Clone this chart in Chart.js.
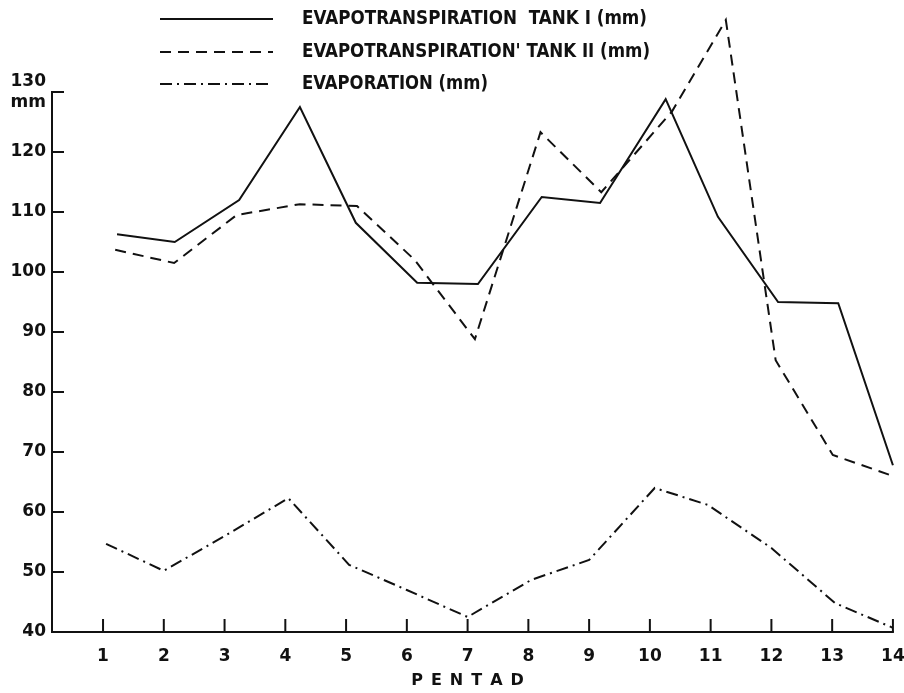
<!DOCTYPE html>
<html>
<head>
<meta charset="utf-8">
<script src="https://cdn.jsdelivr.net/npm/chart.js@4.4.1/dist/chart.umd.min.js"></script>
<style>
  html, body { margin: 0; padding: 0; background: #ffffff; }
  #wrap { width: 904px; height: 693px; }
</style>
</head>
<body>
<div id="wrap"><canvas id="c" width="904" height="693"></canvas></div>
<script>
// ---- data ----
const pentads = [1, 2, 3, 4, 5, 6, 7, 8, 9, 10, 11, 12, 13, 14];
const yTickValues = [40, 50, 60, 70, 80, 90, 100, 110, 120, 130];

const tank1X = [1.23, 2.18, 3.24, 4.24, 5.16, 6.17, 7.17, 8.22, 9.18, 10.26, 11.12, 12.11, 13.10, 14.0];
const tank1Y = [106.3, 105.0, 112.0, 127.5, 108.2, 98.2, 98.0, 112.5, 111.5, 128.8, 109.2, 95.0, 94.8, 67.8];

const tank2X = [1.20, 2.17, 3.20, 4.24, 5.18, 6.13, 7.12, 8.20, 9.20, 10.36, 11.25, 12.07, 13.01, 14.0];
const tank2Y = [103.7, 101.5, 109.5, 111.3, 111.0, 102.0, 88.8, 123.3, 113.3, 126.7, 142.0, 85.3, 69.5, 66.0];

const evapX = [1.05, 2.0, 3.0, 4.05, 5.05, 6.0, 7.0, 8.05, 9.0, 10.08, 10.95, 12.0, 13.05, 14.0];
const evapY = [54.7, 50.2, 56.0, 62.3, 51.2, 47.0, 42.5, 48.7, 52.0, 64.0, 61.2, 54.0, 44.8, 40.7];

const seriesNames = [
  "EVAPOTRANSPIRATION  TANK I (mm)",
  "EVAPOTRANSPIRATION' TANK II (mm)",
  "EVAPORATION (mm)"
];
const xTitle = "P\u2002E\u2002N\u2002T\u2002A\u2002D\u2002\u2002";

// ---- helpers ----
const INK = '#111111';
const zip = (xs, ys) => xs.map((x, i) => ({ x: x, y: ys[i] }));
const dashes = [[], [11, 7], [12, 5, 2, 5]];

const axisPlugin = {
  id: 'axisPlugin',
  afterDraw(chart) {
    const ctx = chart.ctx;
    const xs = chart.scales.x, ys = chart.scales.y;
    const left = chart.chartArea.left;
    const y0 = ys.getPixelForValue(yTickValues[0]);
    const yTop = ys.getPixelForValue(yTickValues[yTickValues.length - 1]);
    ctx.save();
    ctx.strokeStyle = INK;
    ctx.lineWidth = 2;
    ctx.lineCap = 'butt';
    ctx.beginPath();
    ctx.moveTo(left, yTop - 1);
    ctx.lineTo(left, y0 + 1);
    ctx.stroke();
    yTickValues.forEach(v => {
      const py = ys.getPixelForValue(v);
      ctx.beginPath();
      ctx.moveTo(left, py);
      ctx.lineTo(left + 12, py);
      ctx.stroke();
    });
    const xEnd = xs.getPixelForValue(pentads[pentads.length - 1]);
    ctx.beginPath();
    ctx.moveTo(left - 1, y0);
    ctx.lineTo(xEnd + 1, y0);
    ctx.stroke();
    pentads.forEach(p => {
      const px = xs.getPixelForValue(p);
      ctx.beginPath();
      ctx.moveTo(px, y0);
      ctx.lineTo(px, y0 - 13);
      ctx.stroke();
    });

    // legend
    const rowsY = [19, 52, 84];
    const lineX0 = 160, lineX1 = 273, textX = 302;
    const targetW = [345, 348, 186];
    ctx.font = 'bold 19px "DejaVu Sans Condensed", "Liberation Sans Narrow", "DejaVu Sans", sans-serif';
    ctx.fillStyle = INK;
    ctx.textBaseline = 'middle';
    ctx.textAlign = 'left';
    chart.data.datasets.forEach((ds, i) => {
      const ry = rowsY[i];
      ctx.setLineDash(dashes[i]);
      ctx.lineWidth = 2;
      ctx.beginPath();
      ctx.moveTo(lineX0, ry);
      ctx.lineTo(lineX1, ry);
      ctx.stroke();
      ctx.setLineDash([]);
      const w = ctx.measureText(ds.label).width;
      const sx = targetW[i] / w;
      ctx.save();
      ctx.translate(textX, ry);
      ctx.scale(sx, 1);
      ctx.fillText(ds.label, 0, 0);
      ctx.restore();
    });
    ctx.restore();
  }
};

const mkDs = (label, xs, ys, dash) => ({
  label: label,
  data: zip(xs, ys),
  borderColor: INK,
  backgroundColor: INK,
  borderWidth: 2,
  borderDash: dash,
  pointRadius: 0,
  tension: 0,
  fill: false
});

const noPad = s => { s.paddingLeft = 0; s.paddingRight = 0; s.paddingTop = 0; s.paddingBottom = 0; };

new Chart(document.getElementById('c'), {
  type: 'line',
  data: {
    datasets: [
      mkDs(seriesNames[0], tank1X, tank1Y, dashes[0]),
      mkDs(seriesNames[1], tank2X, tank2Y, dashes[1]),
      mkDs(seriesNames[2], evapX, evapY, dashes[2])
    ]
  },
  options: {
    responsive: false,
    devicePixelRatio: 1,
    animation: false,
    layout: { padding: { top: 14, right: 5, left: 0, bottom: 0 } },
    plugins: { legend: { display: false }, tooltip: { enabled: false } },
    scales: {
      x: {
        type: 'linear',
        min: 0.16,
        max: 14.1,
        afterBuildTicks: s => { s.ticks = pentads.map(v => ({ value: v })); },
        afterFit: s => { s.height = 61; noPad(s); },
        grid: { display: false, drawTicks: false },
        border: { display: false },
        ticks: {
          color: INK,
          padding: 14,
          maxRotation: 0,
          autoSkip: false,
          font: { family: '"DejaVu Sans", sans-serif', size: 17, weight: 'bold' },
          callback: v => String(v)
        },
        title: {
          display: true,
          text: xTitle,
          color: INK,
          padding: { top: 0, bottom: 3 },
          font: { family: '"DejaVu Sans", sans-serif', size: 16, weight: 'bold' }
        }
      },
      y: {
        min: 40,
        max: 143,
        afterBuildTicks: s => { s.ticks = yTickValues.map(v => ({ value: v })); },
        afterFit: s => { s.width = 52; noPad(s); },
        grid: { display: false, drawTicks: false },
        border: { display: false },
        ticks: {
          color: INK,
          padding: 6,
          autoSkip: false,
          font: { family: '"DejaVu Sans", sans-serif', size: 17, weight: 'bold' },
          callback: v => (v === 130 ? ['130', 'mm'] : String(v))
        }
      }
    }
  },
  plugins: [axisPlugin]
});
</script>
</body>
</html>
